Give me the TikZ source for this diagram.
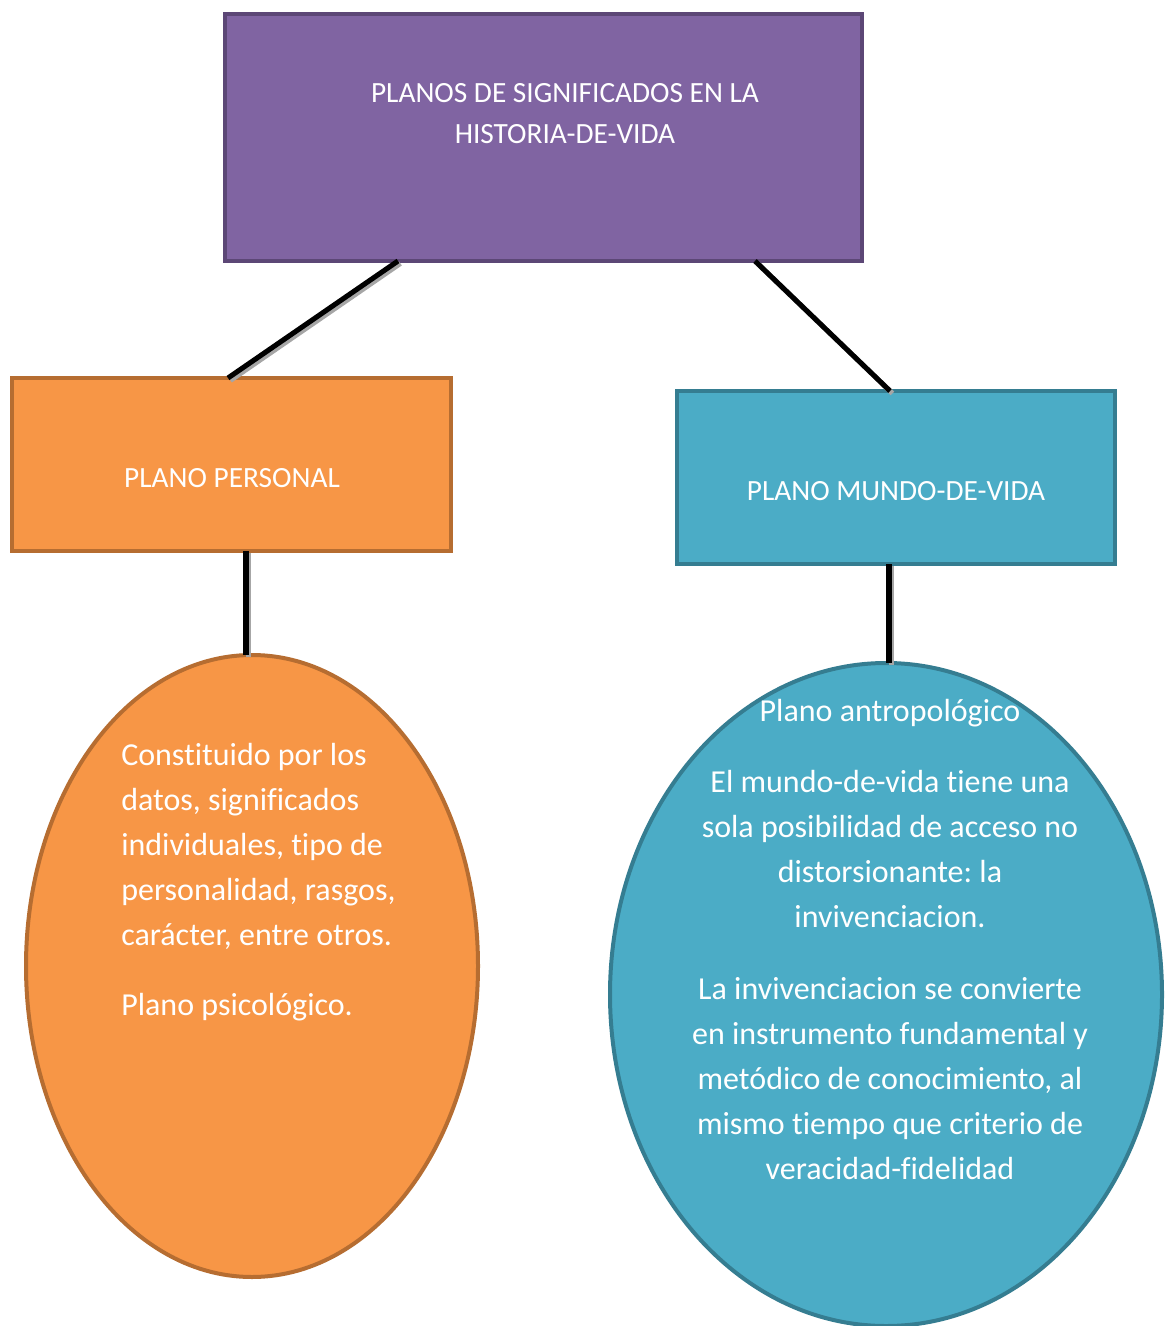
\documentclass[tikz,border=0pt]{standalone}
\usepackage{fontspec}
\setmainfont{Carlito}[Ligatures=NoCommon]
\usetikzlibrary{shapes.geometric}
\frenchspacing

\definecolor{morado}{HTML}{8064A2}
\definecolor{moradoB}{HTML}{5C4776}
\definecolor{naranja}{HTML}{F79646}
\definecolor{naranjaB}{HTML}{B66D31}
\definecolor{celeste}{HTML}{4BACC6}
\definecolor{celesteB}{HTML}{357D91}

\tikzset{
  caja/.style={draw, line width=3pt, rectangle, inner sep=0pt, outer sep=0pt},
  ovalo/.style={draw, line width=3pt, ellipse, inner sep=0pt, outer sep=0pt},
  texto/.style={text=white, inner sep=0pt, font=\fontsize{22}{30.75}\selectfont},
  textoG/.style={text=white, inner sep=0pt, font=\fontsize{24}{33.75}\selectfont},
  enlace/.style={line width=3.8pt, black,
    preaction={draw=gray!70, line width=3.8pt, transform canvas={shift={(1.8pt,-1.8pt)}}}}
}

\begin{document}
\begin{tikzpicture}[x=0.75pt, y=-0.75pt]
    \useasboundingbox (0,0) rectangle (1165,1326);

    % cajas
    \node[caja, fill=morado, draw=moradoB, minimum width=637*0.75pt, minimum height=247*0.75pt] (planos) at (543.5,137.5) {};
    \node[caja, fill=naranja, draw=naranjaB, minimum width=439*0.75pt, minimum height=173*0.75pt] (personal) at (231.5,464.5) {};
    \node[caja, fill=celeste, draw=celesteB, minimum width=438*0.75pt, minimum height=173*0.75pt] (mundo) at (896,477.5) {};

    % ovalos
    \node[ovalo, fill=naranja, draw=naranjaB, minimum width=452*0.75pt, minimum height=622*0.75pt] (psico) at (252,966) {};
    \node[ovalo, fill=celeste, draw=celesteB, minimum width=552*0.75pt, minimum height=663*0.75pt] (antropo) at (886,994.5) {};

    % textos
    \node[texto, align=center] (tplanos) at (565,114) {PLANOS DE SIGNIFICADOS EN LA\\HISTORIA-DE-VIDA};
    \node[texto] (tpersonal) at (232,478) {PLANO PERSONAL};
    \node[texto] (tmundo) at (896,491) {PLANO MUNDO-DE-VIDA};

    \node[textoG, align=left, anchor=north west] (tpsico) at (121,743) {Constituido por los\\datos, significados\\individuales, tipo de\\personalidad, rasgos,\\carácter, entre otros.\\[18.75pt]Plano psicológico.};
    \node[textoG, align=center, anchor=north] (tantropo) at (890,699) {Plano antropológico\\[19.5pt]El mundo-de-vida tiene una\\sola posibilidad de acceso no\\distorsionante: la\\invivenciacion.\\[20pt]La invivenciacion se convierte\\en instrumento fundamental y\\metódico de conocimiento, al\\mismo tiempo que criterio de\\veracidad-fidelidad};

    % enlaces
    \draw[enlace] (planos.south -| 398,0) -- (personal.north -| 228,0);
    \draw[enlace] (planos.south -| 755,0) -- (mundo.north -| 890,0);
    \draw[enlace] (personal.south -| 246,0) -- (psico.north -| 246,0);
    \draw[enlace] (mundo.south -| 889,0) -- (antropo.north -| 889,0);
\end{tikzpicture}
\end{document}
